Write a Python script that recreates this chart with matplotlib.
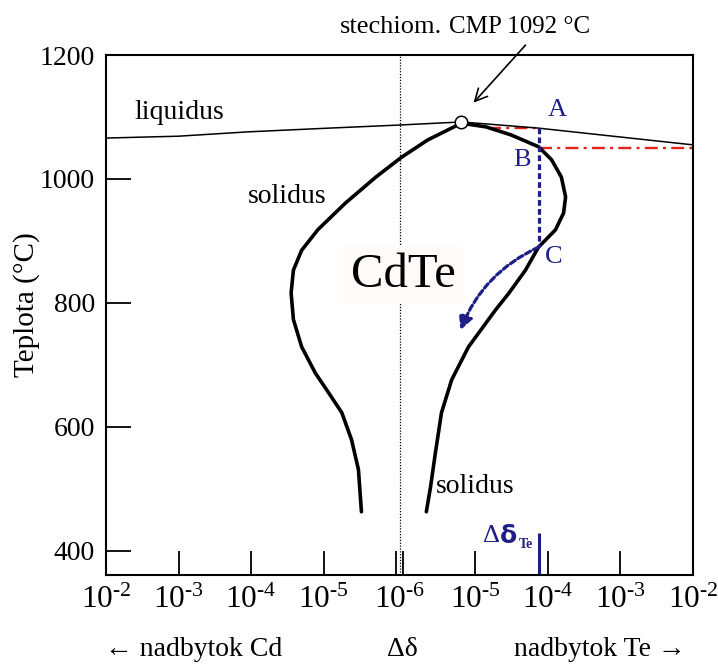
import matplotlib.pyplot as plt

plt.rcParams['font.family'] = ['Liberation Serif', 'DejaVu Serif']
plt.rcParams['mathtext.fontset'] = 'custom'
plt.rcParams['mathtext.rm'] = 'Liberation Serif'
plt.rcParams['mathtext.it'] = 'Liberation Serif:italic'

# odchylka od stechiometrie: zaporne = nadbytok Cd, kladne = nadbytok Te
liquidus_dd = [-1e-2, -1e-3, -1.1e-4, -8.5e-6, 0, 6.4e-6, 7.4e-5, 9.4e-4, 1e-2]
liquidus_T = [1066, 1069, 1076, 1082, 1087, 1092, 1082, 1068, 1055]

# solidus: od laveho dolneho konca cez maximum po pravy dolny koniec
solidus_dd = [-3.0e-6, -3.3e-6, -4.1e-6, -5.6e-6, -8.5e-6, -1.3e-5, -2.0e-5,
              -2.6e-5, -2.8e-5, -2.6e-5, -2.0e-5, -1.2e-5, -5.0e-6, -1.9e-6,
              5.8e-7, 2.2e-6, 6.4e-6,
              1.4e-5, 3.1e-5, 7.4e-5, 1.12e-4, 1.53e-4, 1.75e-4, 1.64e-4,
              1.27e-4, 7.4e-5, 4.9e-5, 2.9e-5, 1.9e-5, 8.0e-6, 4.7e-6,
              3.4e-6, 2.8e-6, 2.4e-6, 2.1e-6]
solidus_T = [463, 531, 579, 623, 655, 687, 729, 773, 816, 853, 885, 918,
             961, 1003, 1035, 1063, 1090,
             1084, 1071, 1052, 1031, 1003, 971, 945, 918, 890, 853, 816,
             789, 729, 676, 623, 558, 503, 463]

cmp_dd, cmp_T = 6.4e-6, 1092
abc_dd = 7.4e-5
abc_T = [1082, 1050, 890]          # A, B, C
arrow_end = (6.2e-6, 756)
red_upper_dd = [1.5e-5, 7.4e-5]
red_lower_dd = [7.4e-5, 1e-2]

x_ticks = [-1e-2, -1e-3, -1e-4, -1e-5, -1e-6, 1e-6, 1e-5, 1e-4, 1e-3, 1e-2]
x_labels = ['$10^{\u20102}$', '$10^{\u20103}$', '$10^{\u20104}$',
            '$10^{\u20105}$', '', '', '$10^{\u20105}$', '$10^{\u20104}$',
            '$10^{\u20103}$', '$10^{\u20102}$']
y_ticks = [400, 600, 800, 1000, 1200]

navy = '#1e1e86'
red = '#e3231c'

fig = plt.figure(figsize=(7.18, 6.72), dpi=100)
ax = fig.add_axes([106 / 718, 97 / 672, 587 / 718, 520 / 672])

ax.set_xscale('symlog', linthresh=1e-6, linscale=0.043)
ax.set_xlim(-1e-2, 1e-2)
ax.set_ylim(361, 1200)

ax.axvline(0, color='black', lw=0.9, ls=(0, (1, 1.3)), zorder=1)

ax.plot(liquidus_dd, liquidus_T, color='black', lw=1.1, zorder=3)
ax.plot(solidus_dd, solidus_T, color='black', lw=2.6, zorder=3,
        solid_joinstyle='round', solid_capstyle='round')
ax.plot([cmp_dd], [cmp_T], 'o', ms=9, mfc='white', mec='black', mew=1.1,
        zorder=5)

ax.plot(red_upper_dd, [abc_T[0]] * 2, color=red, lw=1.7,
        dashes=(5.5, 2.2, 1.3, 2.2), zorder=2)
ax.plot(red_lower_dd, [abc_T[1]] * 2, color=red, lw=1.7,
        dashes=(5.5, 2.2, 1.3, 2.2), zorder=2)
ax.plot([abc_dd, abc_dd], [abc_T[0], abc_T[2]], color=navy, lw=2.3,
        dashes=(1.8, 1.0), zorder=4)

ax.annotate('', xy=arrow_end, xytext=(abc_dd, abc_T[2]),
            arrowprops=dict(arrowstyle='-|>', color=navy, lw=2.3,
                            linestyle=(0, (1.8, 1.0)), mutation_scale=20,
                            shrinkA=0, shrinkB=0,
                            connectionstyle='arc3,rad=0.2'), zorder=4)

ax.text(1.0e-4, 1111, 'A', color=navy, fontsize=19, ha='left', va='center')
ax.text(3.3e-5, 1031, 'B', color=navy, fontsize=19, ha='left', va='center')
ax.text(9.2e-5, 874, 'C', color=navy, fontsize=19, ha='left', va='center')

ax.text(-4e-3, 1108, 'liquidus', fontsize=20, ha='left', va='center')
ax.text(-1.1e-4, 971, 'solidus', fontsize=20, ha='left', va='center')
ax.text(2.8e-6, 503, 'solidus', fontsize=20, ha='left', va='center')
ax.text(1.0e-6, 845, 'CdTe', fontsize=35, ha='center', va='center',
        bbox=dict(boxstyle='square,pad=0.15', fc='#fefbf8', ec='none'),
        zorder=2)

# stechiometricky bod
ax.annotate('', xy=(9.4e-6, 1123), xytext=(4.9e-5, 1216),
            arrowprops=dict(arrowstyle='->', color='black', lw=1.2,
                            mutation_scale=22, shrinkA=0, shrinkB=0),
            annotation_clip=False)
ax.annotate('stechiom.', xy=(3.5e-6, 1236), ha='right', va='baseline',
            fontsize=19, annotation_clip=False)
ax.annotate('CMP 1092 °C', xy=(3.5e-6, 1236), xytext=(5, 0),
            textcoords='offset points', ha='left', va='baseline',
            fontsize=18, annotation_clip=False)

# delta delta Te
ax.vlines(abc_dd, 361, 429, color=navy, lw=2.2)
ax.annotate('Δ', xy=(abc_dd, 424), xytext=(-28, 0),
            textcoords='offset points', ha='right', va='center',
            fontsize=19, color=navy)
ax.annotate('δ', xy=(abc_dd, 424), xytext=(-15.5, 0),
            textcoords='offset points', ha='right', va='center',
            fontsize=18, color=navy, family='DejaVu Sans', weight='bold')
ax.annotate('Te', xy=(abc_dd, 424), xytext=(-4, -6),
            textcoords='offset points', ha='right', va='center',
            fontsize=10, color=navy, weight='bold')

ax.set_xticks(x_ticks, labels=x_labels)
ax.set_xticks([0], labels=['$10^{\u20106}$'], minor=True)
ax.set_yticks(y_ticks)
ax.tick_params(axis='x', which='major', direction='in', length=17,
               width=1.3, labelsize=22.5, pad=8)
ax.tick_params(axis='x', which='minor', length=0, labelsize=22.5, pad=8)
ax.tick_params(axis='y', direction='in', length=18, width=1.3,
               labelsize=20, pad=8)
for s in ax.spines.values():
    s.set_linewidth(1.5)

ax.set_ylabel('Teplota (°C)', fontsize=21)
ax.yaxis.set_label_coords(-0.112, 0.52)

fig.text(105 / 718, 22 / 672, '← nadbytok Cd', fontsize=20, ha='left',
         va='center')
fig.text(402 / 718, 22 / 672, 'Δδ', fontsize=20, ha='center', va='center')
fig.text(686 / 718, 22 / 672, 'nadbytok Te →', fontsize=20, ha='right',
         va='center')

fig.savefig('out.png', dpi=100)
